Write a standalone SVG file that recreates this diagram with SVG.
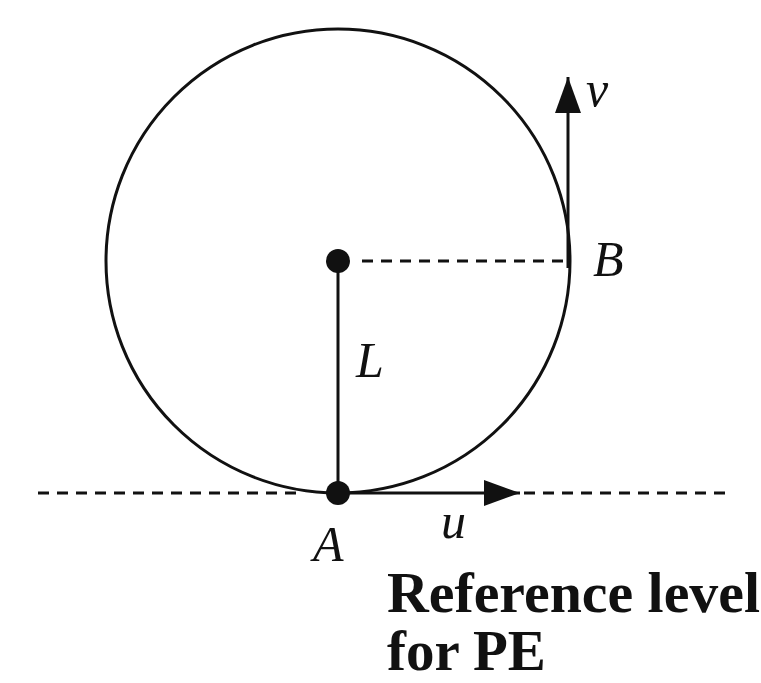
<svg xmlns="http://www.w3.org/2000/svg" width="761" height="683" viewBox="0 0 761 683">
<style>
.ln{stroke:#111;stroke-width:3;fill:none}
.dash{stroke:#111;stroke-width:3;fill:none;stroke-dasharray:11 8}
.lbl{font-family:"Liberation Serif","Times New Roman",serif;font-style:italic;font-size:50px;fill:#111}
.cap{font-family:"Liberation Serif","Times New Roman",serif;font-weight:bold;font-size:57px;fill:#111}
</style>
<defs>
<marker id="ah" markerWidth="36" markerHeight="26" refX="36" refY="13" orient="auto" markerUnits="userSpaceOnUse">
<path d="M0,0 L36,13 L0,26 Z" fill="#111"/>
</marker>
</defs>
<rect width="761" height="683" fill="#fff"/>
<g id="circle"><circle cx="338" cy="261" r="232" class="ln"/></g>
<g id="connectors">
<line x1="38" y1="493" x2="300" y2="493" class="dash"/>
<line x1="524" y1="493" x2="727" y2="493" class="dash"/>
<line x1="362" y1="261" x2="566" y2="261" class="dash"/>
<line x1="338" y1="261" x2="338" y2="493" class="ln"/>
<line x1="338" y1="493" x2="520" y2="493" class="ln" marker-end="url(#ah)"/>
<line x1="568" y1="268" x2="568" y2="77" class="ln" marker-end="url(#ah)"/>
</g>
<g id="center"><circle cx="338" cy="261" r="12" fill="#111"/></g>
<g id="A"><circle cx="338" cy="493" r="12" fill="#111"/><text x="313" y="561" class="lbl">A</text></g>
<g id="B"><text x="593" y="276" class="lbl">B</text></g>
<g id="L"><text x="356" y="377" class="lbl">L</text></g>
<g id="v"><text x="586" y="106" class="lbl" font-size="52">v</text></g>
<g id="u"><text x="441" y="538" class="lbl" font-size="52">u</text></g>
<g id="caption">
<text x="387" y="612" class="cap" textLength="373" lengthAdjust="spacingAndGlyphs">Reference level</text>
<text x="387" y="670" class="cap">for PE</text>
</g>
</svg>
